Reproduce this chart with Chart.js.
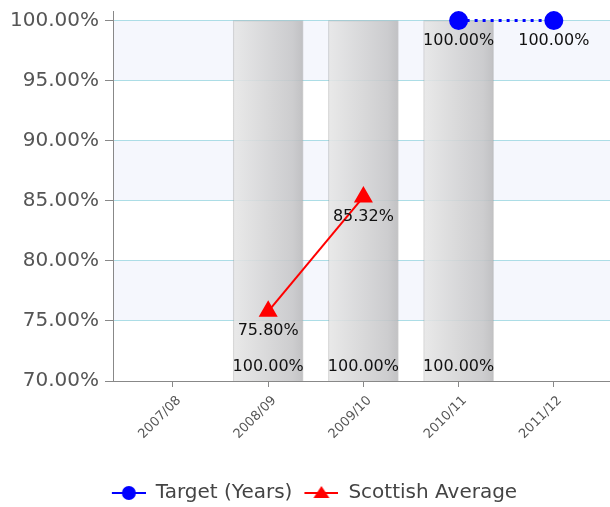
<!DOCTYPE html>
<html>
<head>
<meta charset="utf-8">
<script src="https://cdn.jsdelivr.net/npm/chart.js@4.4.1/dist/chart.umd.min.js"></script>
<style>
    html, body { margin: 0; padding: 0; background: #fff; overflow: hidden; }
    #chart { display: block; }
</style>
</head>
<body>
<canvas id="chart" width="621" height="507"></canvas>
<script>
const years = ['2007/08', '2008/09', '2009/10', '2010/11', '2011/12']
const barValues = [null, 100, 100, 100, null]
const targetValues = [null, null, null, 100, 100]
const scottishValues = [null, 75.80, 85.32, null, null]
const yTicks = [70, 75, 80, 85, 90, 95, 100]

const toPoints = values => values.map((v, i) => ({ x: i, y: v }))
const pct = v => v.toFixed(2) + '%'
const FONT = '"DejaVu Sans", Verdana, sans-serif'


// small line+marker images for the legend (8px blank on the left as item gap)
function legendIcon(color, shape) {
    const c = document.createElement('canvas')
    c.width = 42
    c.height = 18
    const g = c.getContext('2d')
    g.strokeStyle = color
    g.fillStyle = color
    g.lineWidth = 2
    g.beginPath()
    g.moveTo(8, 9)
    g.lineTo(42, 9)
    g.stroke()
    g.beginPath()
    if (shape === 'circle') {
        g.arc(25, 9, 7, 0, Math.PI * 2)
    } else {
        g.moveTo(25, 2)
        g.lineTo(33, 14)
        g.lineTo(17, 14)
        g.closePath()
    }
    g.fill()
    return c
}


// alternating horizontal bands behind the plot (75-80, 85-90, 95-100 shaded)
const bands = {
    id: 'bands',
    beforeDraw(chart) {
        const { ctx, chartArea, scales: { y } } = chart
        ctx.save()
        ctx.fillStyle = '#f5f7fd'
        yTicks.forEach((v, i) => {
            if (i % 2 === 1 || i === 0) return
            const top = y.getPixelForValue(v)
            const bottom = y.getPixelForValue(yTicks[i - 1])
            ctx.fillRect(chartArea.left, top, chartArea.right - chartArea.left, bottom - top)
        })
        ctx.restore()
    }
}


const valueLabels = {
    id: 'valueLabels',
    afterDatasetsDraw(chart) {
        const ctx = chart.ctx
        ctx.save()
        ctx.font = '16px ' + FONT
        ctx.fillStyle = '#111'
        ctx.textAlign = 'center'
        ctx.textBaseline = 'middle'
        chart.data.datasets.forEach((ds, di) => {
            const meta = chart.getDatasetMeta(di)
            meta.data.forEach((el, i) => {
                const v = ds.data[i].y
                if (v == null) return
                const y = ds.type === 'bar' ? chart.chartArea.bottom - 14 : el.y + 20
                ctx.fillText(pct(v), el.x, y)
            })
        })
        ctx.restore()
    }
}


const data = {
    datasets: [
        {
            type: 'line',
            label: 'Target (Years)',
            data: toPoints(targetValues),
            borderColor: '#0000ff',
            backgroundColor: '#0000ff',
            borderWidth: 3,
            borderDash: [3, 5],
            pointStyle: 'circle',
            pointRadius: 8,
            order: 1
        },
        {
            type: 'line',
            label: 'Scottish Average',
            data: toPoints(scottishValues),
            borderColor: '#ff0000',
            backgroundColor: '#ff0000',
            borderWidth: 2,
            pointStyle: 'triangle',
            pointRadius: 9,
            order: 2
        },
        {
            type: 'bar',
            label: 'Value',
            data: toPoints(barValues),
            barThickness: 70,
            borderWidth: 1,
            borderColor: 'rgba(150,150,150,0.4)',
            backgroundColor: ctx => {
                const chart = ctx.chart
                if (!chart.chartArea || ctx.dataIndex == null) return 'rgba(215,215,215,0.85)'
                const cx = chart.scales.x.getPixelForValue(ctx.dataIndex)
                const g = chart.ctx.createLinearGradient(cx - 35, 0, cx + 35, 0)
                g.addColorStop(0, 'rgba(230,230,230,0.88)')
                g.addColorStop(0.85, 'rgba(198,198,200,0.88)')
                g.addColorStop(1, 'rgba(185,185,187,0.88)')
                return g
            },
            order: 3
        }
    ]
}


const options = {
    responsive: false,
    animation: false,
    layout: {
        padding: { top: 9, right: 0, left: 0, bottom: -6 }
    },
    plugins: {
        tooltip: { enabled: false },
        legend: {
            position: 'bottom',
            labels: {
                usePointStyle: true,
                pointStyleWidth: 42,
                padding: 4,
                color: '#444',
                font: { family: FONT, size: 20 },
                generateLabels: () => [
                    { text: 'Target (Years)', pointStyle: legendIcon('#0000ff', 'circle'), fontColor: '#444', lineWidth: 0, hidden: false, datasetIndex: 0 },
                    { text: 'Scottish Average', pointStyle: legendIcon('#ff0000', 'triangle'), fontColor: '#444', lineWidth: 0, hidden: false, datasetIndex: 1 }
                ]
            }
        }
    },
    scales: {
        x: {
            type: 'linear',
            offset: false,
            min: -0.63,
            max: 4.59,
            afterBuildTicks: scale => { scale.ticks = years.map((_, i) => ({ value: i })) },
            afterFit: scale => {
                scale.height = 98
                scale.paddingLeft = 0
                scale.paddingRight = 0
            },
            grid: {
                offset: false,
                drawOnChartArea: false,
                drawTicks: true,
                tickLength: 6,
                color: '#888'
            },
            border: { color: '#888' },
            ticks: {
                minRotation: 45,
                maxRotation: 45,
                padding: 6,
                labelOffset: 6,
                color: '#555',
                font: { family: FONT, size: 13 },
                callback: v => years[v]
            }
        },
        y: {
            min: 70,
            max: 100.8,
            afterBuildTicks: scale => { scale.ticks = yTicks.map(v => ({ value: v })) },
            afterFit: scale => {
                scale.width = 113
                scale.paddingTop = 0
            },
            grid: {
                color: '#acdde6',
                tickColor: '#888',
                tickLength: 8
            },
            border: { color: '#888' },
            ticks: {
                color: '#555',
                padding: 6,
                font: { family: FONT, size: 20 },
                callback: v => pct(v)
            }
        }
    }
}


new Chart('chart', { data, options, plugins: [bands, valueLabels] })
</script>
</body>
</html>
